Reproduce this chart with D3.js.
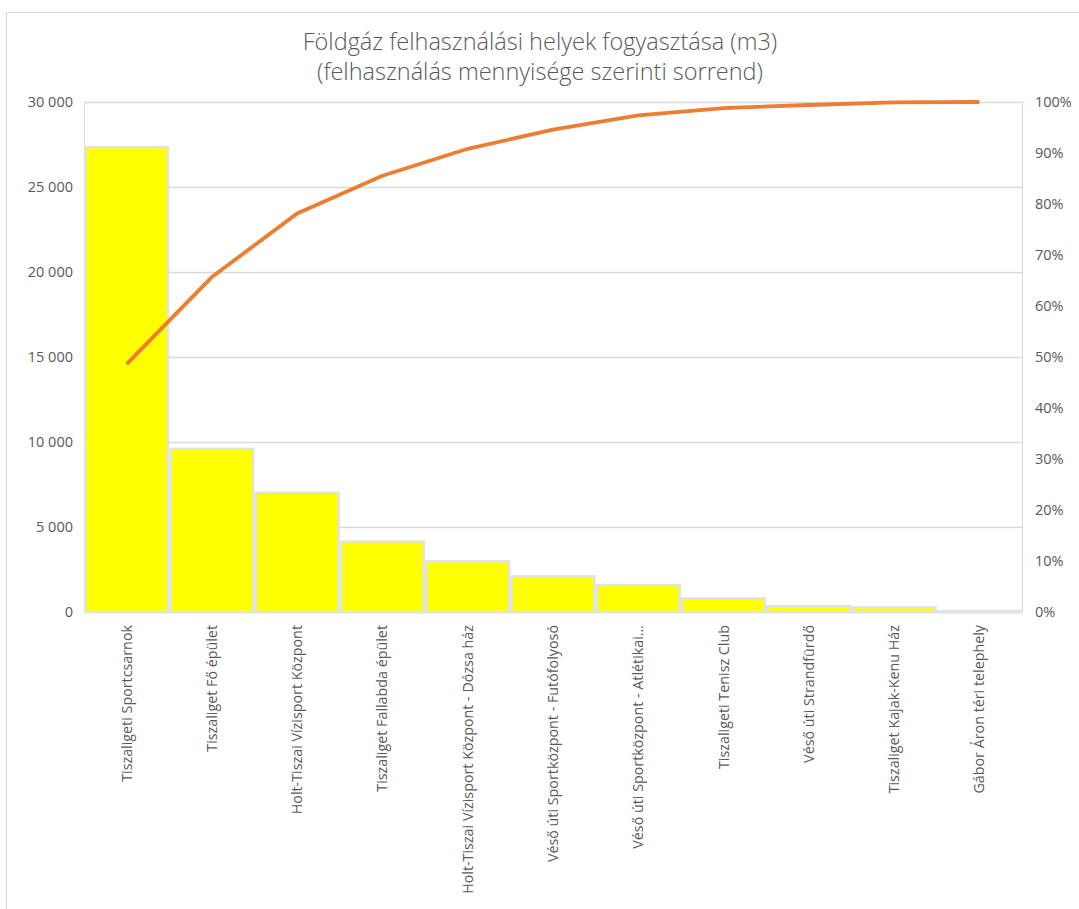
<!DOCTYPE html>
<html>
<head>
<meta charset="utf-8">
<script src="https://cdn.jsdelivr.net/npm/d3@7"></script>
<style>
  body { margin: 0; background: #fff; }
  svg text { font-family: "Open Sans", sans-serif; fill: #595959; }
</style>
</head>
<body>
<svg id="chart"></svg>
<script>
const width = 1079;
const height = 909;
const margin = {top: 102, right: 57, bottom: 297, left: 84};

// data
const places = [
  'Tiszaligeti Sportcsarnok',
  'Tiszaliget Fő épület',
  'Holt-Tiszai Vízisport Központ',
  'Tiszaliget Fallabda épület',
  'Holt-Tiszai Vízisport Központ - Dózsa ház',
  'Véső úti Sportközpont - Futófolyosó',
  'Véső úti Sportközpont - Atlétikai…',
  'Tiszaligeti Tenisz Club',
  'Véső úti Strandfürdő',
  'Tiszaliget Kajak-Kenu Ház',
  'Gábor Áron téri telephely'
];
const usage = [27350, 9600, 7020, 4150, 2980, 2100, 1590, 800, 340, 280, 50];
const leftTicks = [0, 5000, 10000, 15000, 20000, 25000, 30000];
const rightTicks = [0, 0.1, 0.2, 0.3, 0.4, 0.5, 0.6, 0.7, 0.8, 0.9, 1];

const total = d3.sum(usage);
const cumPct = d3.cumsum(usage).map(v => v / total);

const svg = d3.select('#chart')
  .attr('width', width)
  .attr('height', height);

// chart outer border
svg.append('rect')
  .attr('x', 6.5).attr('y', 12.5)
  .attr('width', width + 10).attr('height', height + 10)
  .attr('fill', 'none')
  .attr('stroke', '#d9d9d9');

const plotW = width - margin.left - margin.right;
const plotH = height - margin.top - margin.bottom;

const x = d3.scaleBand().domain(places).range([margin.left, margin.left + plotW]).padding(0);
const y = d3.scaleLinear().domain([0, 30000]).range([margin.top + plotH, margin.top]);
const yPct = d3.scaleLinear().domain([0, 1]).range([margin.top + plotH, margin.top]);

// gridlines
svg.append('g').selectAll('line')
  .data(leftTicks)
  .enter().append('line')
  .attr('x1', margin.left).attr('x2', margin.left + plotW)
  .attr('y1', d => Math.round(y(d)) + 0.5)
  .attr('y2', d => Math.round(y(d)) + 0.5)
  .attr('stroke', '#d9d9d9')
  .attr('stroke-width', 1.5);

// plot area side borders
svg.append('line')
  .attr('x1', margin.left + 0.5).attr('x2', margin.left + 0.5)
  .attr('y1', margin.top).attr('y2', margin.top + plotH)
  .attr('stroke', '#d9d9d9');
svg.append('line')
  .attr('x1', margin.left + plotW + 0.5).attr('x2', margin.left + plotW + 0.5)
  .attr('y1', margin.top).attr('y2', margin.top + plotH)
  .attr('stroke', '#d9d9d9');

// bars
svg.append('g').selectAll('rect')
  .data(usage)
  .enter().append('rect')
  .attr('x', (d, i) => x(places[i]) + 1.2)
  .attr('width', x.bandwidth() - 2.4)
  .attr('y', d => y(d))
  .attr('height', d => y(0) - y(d))
  .attr('fill', '#ffff00')
  .attr('stroke', '#dfe2e8')
  .attr('stroke-width', 2.4);

// cumulative line
svg.append('path')
  .datum(cumPct)
  .attr('fill', 'none')
  .attr('stroke', '#ed7d31')
  .attr('stroke-width', 3.8)
  .attr('d', d3.line()
    .x((d, i) => x(places[i]) + x.bandwidth() / 2)
    .y(d => yPct(d)));

// left axis labels
const fmt = d => d3.format(',')(d).replace(/,/g, ' ');
svg.append('g').selectAll('text')
  .data(leftTicks)
  .enter().append('text')
  .attr('x', 73)
  .attr('y', d => y(d))
  .attr('dy', '0.35em')
  .attr('text-anchor', 'end')
  .style('font-size', '14.5px')
  .text(fmt);

// right axis labels
svg.append('g').selectAll('text')
  .data(rightTicks)
  .enter().append('text')
  .attr('x', 1035)
  .attr('y', d => yPct(d))
  .attr('dy', '0.35em')
  .attr('text-anchor', 'start')
  .style('font-size', '14.5px')
  .text(d => Math.round(d * 100) + '%');

// category labels
svg.append('g').selectAll('text')
  .data(places)
  .enter().append('text')
  .attr('transform', d => `translate(${x(d) + x.bandwidth() / 2}, 625) rotate(-90)`)
  .attr('dy', '0.35em')
  .attr('text-anchor', 'end')
  .style('font-size', '14.3px')
  .text(d => d);

// title
const title = svg.append('text')
  .attr('x', 540)
  .attr('text-anchor', 'middle')
  .style('font-size', '23.5px')
  .style('font-weight', 300);
title.append('tspan').attr('x', 540).attr('y', 50).text('Földgáz felhasználási helyek fogyasztása (m3)');
title.append('tspan').attr('x', 540).attr('y', 80).text('(felhasználás mennyisége szerinti sorrend)');
</script>
</body>
</html>
